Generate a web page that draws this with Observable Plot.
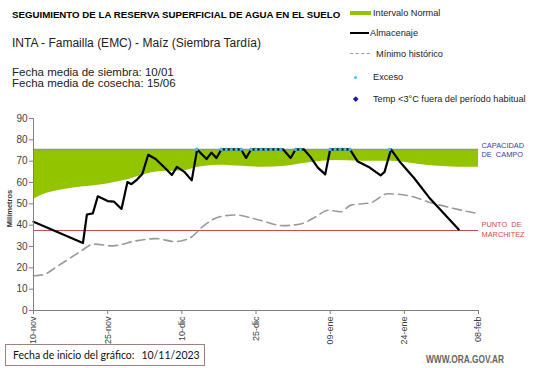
<!DOCTYPE html>
<html><head><meta charset="utf-8">
<script src="https://cdn.jsdelivr.net/npm/d3@7"></script>
<script src="https://cdn.jsdelivr.net/npm/@observablehq/plot@0.6"></script>
<style>
body{margin:0;background:#fff;}
#wrap{position:relative;width:541px;height:368px;overflow:hidden;font-family:"Liberation Sans",Arial,sans-serif;}
#wrap svg{position:absolute;left:0;top:0;}
.t{position:absolute;white-space:nowrap;color:#000;}
.lg{position:absolute;white-space:nowrap;font-size:9.2px;color:#222;}
</style></head><body>
<div id="wrap"></div>
<script>
// ---- data (days since 10-nov-2023) ----
const startDate = "10/11/2023";
const xTickDays = [0, 15, 30, 45, 60, 75, 90];
const xTickLabels = ["10-nov", "25-nov", "10-dic", "25-dic", "09-ene", "24-ene", "08-feb"];
const yTicks = [0, 10, 20, 30, 40, 50, 60, 70, 80, 90];
const capacidad = 75.5;
const marchitez = 37.5;

const normalDays = [0, 2.4, 5.1, 8.5, 15.2, 18.6, 22, 25.4, 30.8, 32.8, 37.5, 42.2, 46.3, 51, 55.7, 61.1, 65.9, 72.6, 79.4, 86.1, 90];
const normalLow  = [52.1, 54.7, 56.3, 57.5, 59.4, 61, 63.4, 65, 65.6, 66.9, 68.1, 67.6, 67.2, 67.6, 69.2, 70.3, 70, 70, 68.1, 67.2, 67.2];

const almDays = [0, 10, 10.8, 12, 13, 15, 16.3, 17.8, 19, 19.8, 21, 22, 23.2, 24.7, 26.5, 28, 29, 30.5, 32, 33.1, 35, 36, 37, 38, 42, 43, 44, 50.5, 52, 53, 54.7, 56, 57.5, 59, 60, 64, 65.5, 68, 70.2, 71, 72.3, 74, 77, 80, 86];
const almVals = [41.6, 31.6, 45, 45.5, 53.5, 51.3, 51, 47.6, 60.2, 59.2, 61.5, 64, 73, 71, 67, 63.5, 67.3, 65, 61, 75.5, 71, 74, 71.5, 75.5, 75.5, 71.5, 75.5, 75.5, 71.5, 75.5, 75.5, 72, 67, 63.8, 75.5, 75.5, 70, 67, 63.3, 65, 75.5, 70, 62, 53, 38];

const minDays = [0, 2, 5, 9.2, 12.2, 16, 20.6, 24.7, 28.7, 31.4, 34.8, 37.5, 40.9, 45, 50.5, 54.2, 57, 59.6, 62.1, 64.2, 68.2, 71.6, 76.3, 79.7, 85.8, 90];
const minVals = [16.3, 16.8, 21, 27.2, 31.1, 30.3, 32.6, 33.7, 32.3, 33.7, 40.4, 43.8, 44.8, 42.8, 39.8, 40.7, 43.8, 47, 46.3, 49.4, 50.5, 54.7, 53.6, 51, 47.4, 45.4];

const excesoDays = [33, 38, 39, 40, 41, 42, 44, 45, 46, 47, 48, 49, 50, 53, 54, 60, 61, 62, 63, 64, 72];

// ---- tables ----
const normal = normalDays.map((d, i) => ({d, lo: normalLow[i], hi: capacidad}));
const alm = almDays.map((d, i) => ({d, v: almVals[i]}));
const minimo = minDays.map((d, i) => ({d, v: minVals[i]}));

const chart = Plot.plot({
  width: 541, height: 368,
  marginLeft: 33, marginRight: 63, marginTop: 118, marginBottom: 58,
  x: {domain: [0, 90], axis: null, label: null},
  y: {domain: [0, 90], axis: null, label: null},
  style: {fontFamily: "'Liberation Sans', Arial, sans-serif", background: "transparent"},
  marks: [
    Plot.areaY(normal, {x: "d", y1: "lo", y2: "hi", fill: "#92c500", curve: "monotone-x"}),
    Plot.ruleY([capacidad], {stroke: "#8797a8", strokeWidth: 1.6}),
    Plot.ruleY([marchitez], {stroke: "#c0504d", strokeWidth: 1}),
    Plot.line(minimo, {x: "d", y: "v", stroke: "#9a9a9a", strokeWidth: 1.6, strokeDasharray: "9,5", curve: "monotone-x"}),
    Plot.line(alm, {x: "d", y: "v", stroke: "#000", strokeWidth: 2.2}),
    Plot.dot(excesoDays, {x: d => d, y: () => capacidad, r: 1.5, fill: "#3cc6ee", stroke: "#2aa0d0", strokeWidth: 0.4}),
    Plot.text([capacidad], {x: 90, y: d => d, text: () => "CAPACIDAD\nDE  CAMPO", textAnchor: "start", dx: 3, lineAnchor: "middle", fontSize: 7.4, fill: "#3a3aa8", lineHeight: 1.3}),
    Plot.text([marchitez], {x: 90, y: d => d, text: () => "PUNTO  DE\nMARCHITEZ", textAnchor: "start", dx: 3, dy: -1.5, lineAnchor: "middle", fontSize: 7.4, fill: "#d04a4a", lineHeight: 1.25}),
    Plot.ruleX([0], {stroke: "#808080"}),
    Plot.ruleY([0], {stroke: "#808080"}),
    Plot.axisY({ticks: yTicks, label: null, tickSize: 4, tickPadding: 2, fontSize: 10, color: "#404040", stroke: "#808080"}),
    Plot.axisX({ticks: xTickDays, label: null, tickFormat: (d) => xTickLabels[xTickDays.indexOf(d)], tickRotate: -90, tickSize: 4, tickPadding: 2, fontSize: 9, color: "#404040", stroke: "#808080"})
  ]
});
const wrap = document.getElementById("wrap");
wrap.appendChild(chart);

function add(html, css, cls) {
  const el = document.createElement("div");
  el.className = cls || "t";
  el.innerHTML = html;
  Object.assign(el.style, css);
  wrap.appendChild(el);
  return el;
}
add("SEGUIMIENTO DE LA RESERVA SUPERFICIAL DE AGUA EN EL SUELO", {left: "12px", top: "9px", fontSize: "9.7px", fontWeight: "bold"});
add("INTA - Famailla (EMC) - Maíz (Siembra Tardía)", {left: "12px", top: "36px", fontSize: "12px", color: "#222"});
add("Fecha media de siembra: 10/01", {left: "12px", top: "66px", fontSize: "11.5px", color: "#222"});
add("Fecha media de cosecha: 15/06", {left: "12px", top: "77px", fontSize: "11.5px", color: "#222"});
add("Milímetros", {left: "-9px", top: "204px", fontSize: "7.5px", fontWeight: "bold", transform: "rotate(-90deg)", color: "#333"});

// legend
add("", {left: "350px", top: "11px", width: "21px", height: "4px", background: "#92c500"}, "lg");
add("Intervalo Normal", {left: "373px", top: "8px"}, "lg");
add("", {left: "350px", top: "32px", width: "19px", height: "2px", background: "#000"}, "lg");
add("Almacenaje", {left: "370px", top: "28px"}, "lg");
add("", {left: "350px", top: "53px", width: "20px", height: "0", borderTop: "1.5px dashed #9a9a9a"}, "lg");
add("Mínimo histórico", {left: "376px", top: "49px"}, "lg");
add("", {left: "354px", top: "76px", width: "3px", height: "3px", borderRadius: "50%", background: "#3cc6ee"}, "lg");
add("Exceso", {left: "373px", top: "72px"}, "lg");
add("", {left: "354px", top: "97px", width: "3.5px", height: "3.5px", transform: "rotate(45deg)", background: "#1a1aa0"}, "lg");
add("Temp &lt;3°C fuera del período habitual", {left: "373px", top: "94px"}, "lg");

// footer
add('Fecha de inicio del gráfico:<span style="margin-left:7px">' + startDate + '</span>', {left: "5px", top: "344px", width: "191px", height: "20px", lineHeight: "20px", paddingLeft: "7px", border: "1px solid #a08080", fontSize: "10.5px", fontFamily: "Lato, 'Open Sans', sans-serif", color: "#111"});
add("WWW.ORA.GOV.AR", {left: "426px", top: "354px", fontSize: "10px", fontWeight: "bold", color: "#666", transform: "scaleX(0.83)", transformOrigin: "left center"});
</script>
</body></html>
